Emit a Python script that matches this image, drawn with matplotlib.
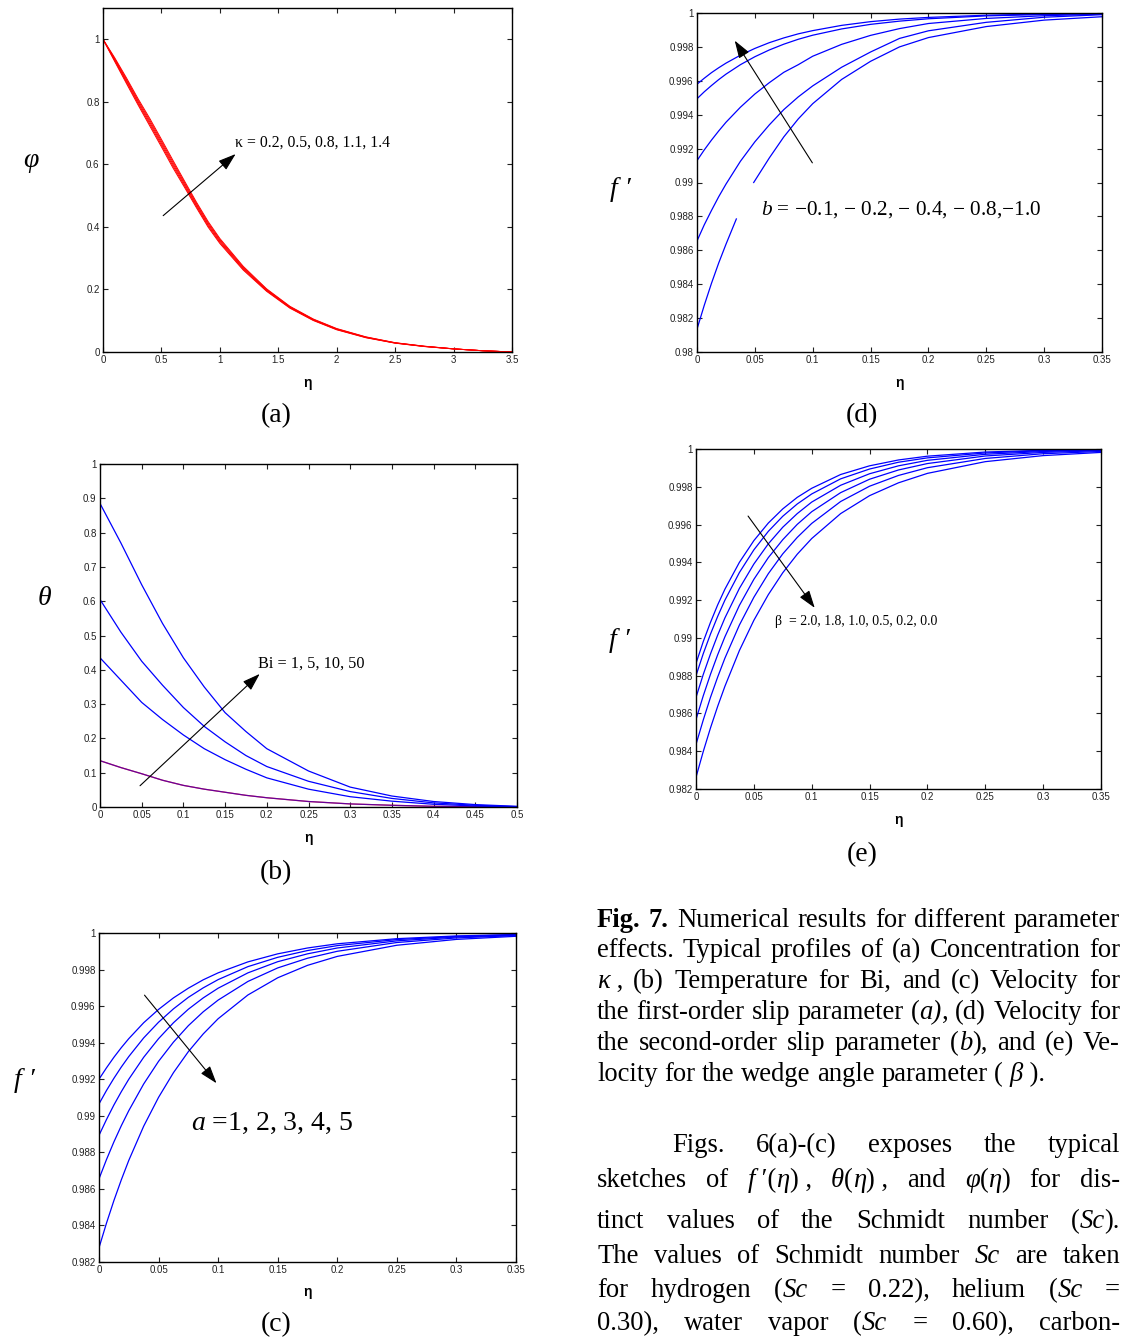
import numpy as np
import matplotlib
matplotlib.use('Agg')
import matplotlib.pyplot as plt
from matplotlib.ticker import FuncFormatter

W, H = 1121, 1341
DPI = 100
SERIF = ['Liberation Serif', 'DejaVu Serif']

plt.rcParams['font.family'] = ['Liberation Sans', 'DejaVu Sans']
plt.rcParams['mathtext.fontset'] = 'custom'
plt.rcParams['mathtext.rm'] = 'Liberation Serif'
plt.rcParams['mathtext.it'] = 'Liberation Serif:italic'

# ---------------- (a) concentration, kappa = 0.2 ... 1.4 ----------------
eta_a = [0, 0.1, 0.2, 0.3, 0.4, 0.5, 0.6, 0.7, 0.8, 0.9, 1.0, 1.2, 1.4, 1.6,
         1.8, 2.0, 2.25, 2.5, 2.75, 3.0, 3.25, 3.5]
phi_k02 = [1.0, 0.929, 0.859, 0.790, 0.723, 0.656, 0.588, 0.525, 0.461, 0.399, 0.347,
           0.262, 0.194, 0.140, 0.1006, 0.071, 0.0456, 0.0282, 0.0174, 0.0098, 0.004, 0.0]
phi_k05 = [1.0, 0.932, 0.8635, 0.795, 0.729, 0.662, 0.594, 0.530, 0.4655, 0.4035, 0.351,
           0.265, 0.196, 0.1415, 0.1018, 0.072, 0.0463, 0.0286, 0.0177, 0.0099, 0.004, 0.0]
phi_k08 = [1.0, 0.935, 0.868, 0.800, 0.735, 0.668, 0.600, 0.535, 0.470, 0.408, 0.355,
           0.268, 0.198, 0.143, 0.103, 0.073, 0.047, 0.029, 0.018, 0.010, 0.004, 0.0]
phi_k11 = [1.0, 0.938, 0.8725, 0.805, 0.741, 0.674, 0.606, 0.540, 0.4745, 0.4125, 0.359,
           0.271, 0.200, 0.1445, 0.1042, 0.074, 0.0477, 0.0294, 0.0183, 0.0101, 0.004, 0.0]
phi_k14 = [1.0, 0.941, 0.877, 0.810, 0.747, 0.680, 0.612, 0.545, 0.479, 0.417, 0.363,
           0.274, 0.202, 0.146, 0.1054, 0.075, 0.0484, 0.0298, 0.0186, 0.0102, 0.004, 0.0]

# ---------------- (b) temperature, Bi = 1, 5, 10, 50 ----------------
eta_b = [0, 0.025, 0.05, 0.075, 0.1, 0.125, 0.15, 0.175, 0.2, 0.25, 0.3, 0.35, 0.4, 0.45, 0.5]
theta_bi1 = [0.135, 0.115, 0.097, 0.078, 0.063, 0.052, 0.043, 0.034, 0.027, 0.016, 0.009,
             0.005, 0.002, 0.001, 0.0]
theta_bi5 = [0.435, 0.370, 0.305, 0.255, 0.210, 0.170, 0.138, 0.110, 0.085, 0.052, 0.030,
             0.017, 0.008, 0.003, 0.0]
theta_bi10 = [0.605, 0.510, 0.425, 0.355, 0.290, 0.235, 0.190, 0.150, 0.118, 0.075, 0.045,
              0.025, 0.012, 0.005, 0.001]
theta_bi50 = [0.885, 0.770, 0.648, 0.535, 0.435, 0.350, 0.275, 0.220, 0.170, 0.105, 0.058,
              0.032, 0.016, 0.007, 0.002]

# shared eta grid for the velocity panels (c), (d), (e)
eta_v = [0, 0.00625, 0.0125, 0.01875, 0.025, 0.0375, 0.05, 0.0625, 0.075, 0.0875, 0.1,
         0.125, 0.15, 0.175, 0.2, 0.25, 0.3, 0.35]

# ---------------- (c) velocity, a = 1 ... 5 ----------------
fp_a1 = [0.99200, 0.99262, 0.99320, 0.99373, 0.99422, 0.99509, 0.99582, 0.99645, 0.99698,
         0.99744, 0.99782, 0.99842, 0.99886, 0.99918, 0.99941, 0.99969, 0.99984, 0.99992]
fp_a2 = [0.99065, 0.99138, 0.99205, 0.99267, 0.99324, 0.99426, 0.99512, 0.99585, 0.99648,
         0.99700, 0.99745, 0.99816, 0.99867, 0.99904, 0.99931, 0.99964, 0.99981, 0.99990]
fp_a3 = [0.98893, 0.98979, 0.99059, 0.99132, 0.99200, 0.99320, 0.99422, 0.99509, 0.99583,
         0.99645, 0.99698, 0.99782, 0.99843, 0.99886, 0.99918, 0.99957, 0.99978, 0.99988]
fp_a4 = [0.98655, 0.98760, 0.98857, 0.98946, 0.99028, 0.99174, 0.99298, 0.99403, 0.99493,
         0.99569, 0.99633, 0.99735, 0.99809, 0.99862, 0.99900, 0.99948, 0.99973, 0.99986]
fp_a5 = [0.98278, 0.98412, 0.98536, 0.98650, 0.98756, 0.98943, 0.99101, 0.99236, 0.99351,
         0.99448, 0.99531, 0.99661, 0.99755, 0.99823, 0.99872, 0.99933, 0.99965, 0.99982]

# ---------------- (d) velocity, b = -0.1 ... -1.0 ----------------
fp_b01 = [0.99580, 0.99615, 0.99648, 0.99677, 0.99704, 0.99751, 0.99791, 0.99825, 0.99853,
          0.99877, 0.99896, 0.99927, 0.99949, 0.99964, 0.99974, 0.99987, 0.99994, 0.99997]
fp_b02 = [0.99494, 0.99535, 0.99572, 0.99607, 0.99639, 0.99695, 0.99742, 0.99782, 0.99816,
          0.99845, 0.99869, 0.99906, 0.99933, 0.99952, 0.99966, 0.99983, 0.99991, 0.99996]
fp_b04 = [0.99129, 0.99192, 0.99250, 0.99304, 0.99355, 0.99444, 0.99522, 0.99589, 0.99650,
          0.99695, 0.99745, 0.99815, 0.99868, 0.99908, 0.99938, 0.99968, 0.99984, 0.99993]
fp_b08 = [0.98655, 0.98750, 0.98835, 0.98916, 0.98990, 0.99125, 0.99240, 0.99340, 0.99430,
          0.99505, 0.99570, 0.99680, 0.99770, 0.99850, 0.99895, 0.99945, 0.99975, 0.99990]
# b = -1.0 is broken where the label box covered it in the original
eta_d10 = [0, 0.00625, 0.0125, 0.01875, 0.025, 0.034, 0.0415, 0.049, 0.0625, 0.075, 0.0875,
           0.1, 0.125, 0.15, 0.175, 0.2, 0.25, 0.3, 0.35]
fp_b10 = [0.98135, 0.98275, 0.98405, 0.98525, 0.98635, 0.98785, np.nan, 0.99000, 0.99145,
          0.99269, 0.99375, 0.99465, 0.99608, 0.99715, 0.99800, 0.99855, 0.99920, 0.99958,
          0.99978]

# ---------------- (e) velocity, beta = 2.0 ... 0.0 ----------------
fp_beta20 = [0.98865, 0.98980, 0.99082, 0.99175, 0.99258, 0.99400, 0.99515, 0.99608, 0.99683,
             0.99744, 0.99792, 0.99865, 0.99911, 0.99942, 0.99962, 0.99984, 0.99993, 0.99997]
fp_beta18 = [0.98800, 0.98916, 0.99020, 0.99114, 0.99200, 0.99346, 0.99466, 0.99564, 0.99644,
             0.99709, 0.99762, 0.99842, 0.99894, 0.99930, 0.99953, 0.99979, 0.99991, 0.99996]
fp_beta10 = [0.98685, 0.98806, 0.98915, 0.99015, 0.99106, 0.99262, 0.99391, 0.99498, 0.99586,
             0.99658, 0.99719, 0.99808, 0.99869, 0.99911, 0.99940, 0.99972, 0.99987, 0.99994]
fp_beta05 = [0.98568, 0.98693, 0.98807, 0.98911, 0.99006, 0.99172, 0.99310, 0.99425, 0.99520,
             0.99601, 0.99668, 0.99769, 0.99840, 0.99889, 0.99923, 0.99963, 0.99982, 0.99991]
fp_beta02 = [0.98436, 0.98565, 0.98685, 0.98793, 0.98893, 0.99068, 0.99215, 0.99340, 0.99445,
             0.99532, 0.99606, 0.99722, 0.99803, 0.99860, 0.99901, 0.99950, 0.99975, 0.99987]
fp_beta00 = [0.98262, 0.98398, 0.98523, 0.98638, 0.98744, 0.98933, 0.99093, 0.99229, 0.99345,
             0.99443, 0.99526, 0.99658, 0.99753, 0.99821, 0.99871, 0.99933, 0.99965, 0.99982]

# annotation arrows: (tail, head) in data units
arrow_a = ((0.515, 0.436), (1.135, 0.633))
arrow_b = ((0.048, 0.062), (0.1915, 0.388))
arrow_c = ((0.0382, 0.9966), (0.0986, 0.99178))
arrow_d = ((0.0997, 0.99116), (0.0326, 0.99837))
arrow_e = ((0.045, 0.99645), (0.1026, 0.99159))

caption_lines = [
    "#Fig.# #7.# Numerical results for different parameter",
    "effects. Typical profiles of (a) Concentration for",
    "*κ*~, (b) Temperature for Bi, and (c) Velocity for",
    "the first-order slip parameter (*a)*, (d) Velocity for",
    "the second-order slip parameter (*b*), and (e) Ve-",
    "locity for the wedge angle parameter (~*β*~).",
]
body_lines = [
    "Figs. 6(a)-(c) exposes the typical",
    "sketches of *f*~′(*η*)~, *θ*(*η*)~, and *φ*(*η*) for dis-",
    "tinct values of the Schmidt number (*Sc*).",
    "The values of Schmidt number *Sc* are taken",
    "for hydrogen (*Sc* = 0.22), helium (*Sc* =",
    "0.30), water vapor (*Sc* = 0.60), carbon-",
]


def px_axes(left, top, right, bottom):
    return [left / W, 1 - bottom / H, (right - left) / W, (bottom - top) / H]


def fmt(v, pos):
    return f'{round(v, 4):g}'


def style_axes(ax, xlim, xticks, ylim, yticks):
    ax.set_xlim(xlim)
    ax.set_ylim(ylim)
    ax.set_xticks(xticks)
    ax.set_yticks(yticks)
    ax.xaxis.set_major_formatter(FuncFormatter(fmt))
    ax.yaxis.set_major_formatter(FuncFormatter(fmt))
    ax.tick_params(direction='in', top=True, right=True, length=3.5, width=0.8,
                   labelsize=7, pad=2.5, colors='#222222')
    for s in ax.spines.values():
        s.set_linewidth(1.0)
    ax.set_xlabel('η', fontsize=10, fontweight='bold', va='center')
    ax.xaxis.set_label_coords(0.5, -0.09)


def ylabel(ax, text, x, y):
    ax.set_ylabel(text, family=SERIF, style='italic', fontsize=20, rotation=0,
                  va='center', ha='center')
    ax.yaxis.set_label_coords(x, y)


def arrow(ax, ends):
    (x0, y0), (x1, y1) = ends
    ax.annotate('', xy=(x1, y1), xytext=(x0, y0),
                arrowprops=dict(arrowstyle='-|>,head_length=0.9,head_width=0.3',
                                color='black', lw=0.8, shrinkA=0, shrinkB=0,
                                mutation_scale=12))


fig = plt.figure(figsize=(W / DPI, H / DPI), dpi=DPI)
blue = '#0000ff'

# (a)
ax = fig.add_axes(px_axes(103, 8, 512, 352))
for phi in [phi_k02, phi_k05, phi_k08, phi_k11, phi_k14]:
    ax.plot(eta_a, phi, color='#ff0000', lw=0.7)
style_axes(ax, (0, 3.5), np.arange(0, 3.51, 0.5), (0, 1.1), np.arange(0, 1.01, 0.2))
arrow(ax, arrow_a)
ax.text(1.13, 0.668, 'κ = 0.2, 0.5, 0.8, 1.1, 1.4', family=SERIF, fontsize=11.3,
        ha='left', va='center')
ylabel(ax, 'φ', -0.176, 0.558)

# (d)
ax = fig.add_axes(px_axes(697, 13, 1102, 352))
for fp in [fp_b01, fp_b02, fp_b04, fp_b08]:
    ax.plot(eta_v, fp, color=blue, lw=0.9)
ax.plot(eta_d10, fp_b10, color=blue, lw=0.9)
style_axes(ax, (0, 0.35), np.arange(0, 0.351, 0.05), (0.98, 1.0), np.arange(0.98, 1.0001, 0.002))
arrow(ax, arrow_d)
ax.text(0.0556, 0.98841, '$b$ = −0.1, − 0.2, − 0.4, − 0.8,−1.0', family=SERIF,
        fontsize=15.3, ha='left', va='center')
ylabel(ax, 'f ′', -0.19, 0.478)

# (b)
ax = fig.add_axes(px_axes(100, 464, 517, 807))
ax.plot(eta_b, theta_bi1, color='#ff0000', lw=0.9)
ax.plot(eta_b, theta_bi1, color=blue, lw=0.9, alpha=0.6)
for th in [theta_bi5, theta_bi10, theta_bi50]:
    ax.plot(eta_b, th, color=blue, lw=0.9)
style_axes(ax, (0, 0.5), np.arange(0, 0.501, 0.05), (0, 1.0), np.arange(0, 1.01, 0.1))
arrow(ax, arrow_b)
ax.text(0.189, 0.419, 'Bi = 1, 5, 10, 50', family=SERIF, fontsize=11.7,
        ha='left', va='center')
ylabel(ax, 'θ', -0.134, 0.609)

# (e)
ax = fig.add_axes(px_axes(696, 449, 1101, 789))
for fp in [fp_beta20, fp_beta18, fp_beta10, fp_beta05, fp_beta02, fp_beta00]:
    ax.plot(eta_v, fp, color=blue, lw=0.9)
style_axes(ax, (0, 0.35), np.arange(0, 0.351, 0.05), (0.982, 1.0), np.arange(0.982, 1.0001, 0.002))
arrow(ax, arrow_e)
ax.text(0.0686, 0.99089, 'β  = 2.0, 1.8, 1.0, 0.5, 0.2, 0.0', family=SERIF, fontsize=9.9,
        ha='left', va='center')
ylabel(ax, 'f ′', -0.188, 0.438)

# (c)
ax = fig.add_axes(px_axes(99, 933, 516, 1262))
for fp in [fp_a1, fp_a2, fp_a3, fp_a4, fp_a5]:
    ax.plot(eta_v, fp, color=blue, lw=0.9)
style_axes(ax, (0, 0.35), np.arange(0, 0.351, 0.05), (0.982, 1.0), np.arange(0.982, 1.0001, 0.002))
arrow(ax, arrow_c)
ax.text(0.0775, 0.9896, '$a$ =1, 2, 3, 4, 5', family=SERIF, fontsize=20,
        ha='left', va='center')
ylabel(ax, 'f ′', -0.18, 0.553)

# sub-figure captions
for lab, (cx, cy) in zip(['(a)', '(d)', '(b)', '(e)', '(c)'],
                         [(276, 416), (862, 416), (276, 873), (862, 855), (276, 1325)]):
    fig.text(cx / W, 1 - cy / H, lab, family=SERIF, fontsize=20, ha='center', va='center')


# ---------------- justified text block on the right ----------------
def parse_word(word):
    pieces, buf, it, bd = [], '', False, False
    for ch in word:
        if ch in '*#':
            if buf:
                pieces.append((buf, it, bd))
                buf = ''
            if ch == '*':
                it = not it
            else:
                bd = not bd
        elif ch == '~':
            buf += ' '
        else:
            buf += ch
    if buf:
        pieces.append((buf, it, bd))
    return pieces


renderer = fig.canvas.get_renderer()
FS = 19.2


def place_line(line, x_left, x_right, y_base, justify=True):
    items, total = [], 0.0
    for word in line.split():
        arts, ww = [], 0.0
        for txt, it, bd in parse_word(word):
            t = fig.text(0, 0, txt, family=SERIF, fontsize=FS,
                         style='italic' if it else 'normal',
                         weight='bold' if bd else 'normal', ha='left', va='baseline')
            w = t.get_window_extent(renderer).width
            arts.append((t, w))
            ww += w
        items.append((arts, ww))
        total += ww
    if justify and len(items) > 1:
        gap = (x_right - x_left - total) / (len(items) - 1)
    else:
        gap = FS * DPI / 72 * 0.25
    x = x_left
    for arts, ww in items:
        for t, w in arts:
            t.set_position((x / W, 1 - y_base / H))
            x += w
        x += gap


cap_base = [927, 957, 988, 1019, 1050, 1081]
for i, (line, yb) in enumerate(zip(caption_lines, cap_base)):
    place_line(line, 597, 1120, yb, justify=(i < len(caption_lines) - 1))

body_base = [1152, 1187, 1228, 1263, 1297, 1330]
for i, (line, yb) in enumerate(zip(body_lines, body_base)):
    place_line(line, 672 if i == 0 else 597, 1120, yb)

fig.savefig('out.png', dpi=DPI, facecolor='white')
